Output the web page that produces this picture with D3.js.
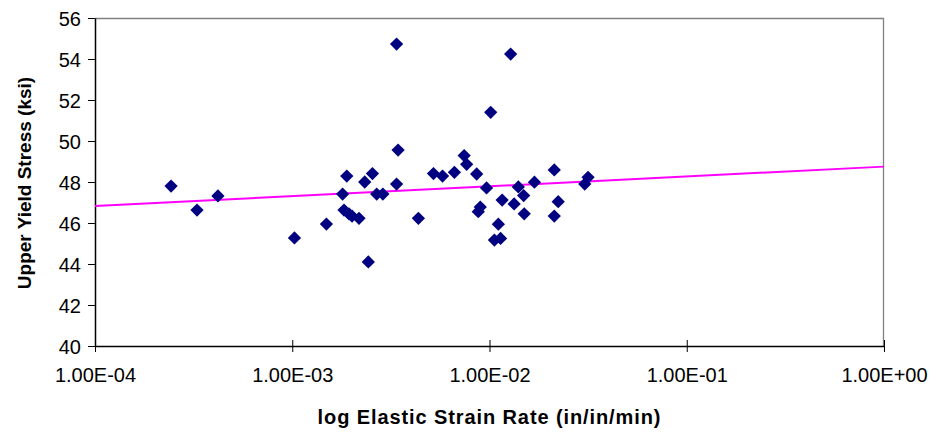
<!DOCTYPE html>
<html>
<head>
<meta charset="utf-8">
<script src="https://cdn.jsdelivr.net/npm/d3@7"></script>
<style>
  body { margin: 0; background: #fff; }
  svg { display: block; font-family: "Liberation Sans", Arial, sans-serif; }
</style>
</head>
<body>
<div id="vis"></div>
<script>
// Data
const STRAIN_RATE = [
  2.43e-4, 3.29e-4, 4.20e-4, 1.026e-3, 1.49e-3, 1.80e-3, 1.89e-3, 1.83e-3, 1.94e-3, 2.01e-3,
  2.18e-3, 2.33e-3, 2.55e-3, 2.43e-3, 2.68e-3, 2.88e-3, 3.38e-3, 3.44e-3, 3.38e-3, 4.36e-3,
  5.20e-3, 5.78e-3, 6.64e-3, 7.44e-3, 7.66e-3, 8.61e-3, 9.66e-3, 8.98e-3, 8.77e-3, 1.159e-2,
  1.109e-2, 1.059e-2, 1.138e-2, 1.014e-2, 1.28e-2, 1.333e-2, 1.40e-2, 1.49e-2, 1.50e-2, 1.69e-2,
  2.13e-2, 2.23e-2, 2.13e-2, 3.04e-2, 3.16e-2
];
const YIELD_STRESS = [
  47.80, 46.63, 47.32, 45.27, 45.95, 47.41, 48.29, 46.63, 46.44, 46.34,
  46.23, 48.00, 48.41, 44.10, 47.41, 47.41, 54.73, 49.56, 47.90, 46.23,
  48.41, 48.29, 48.47, 49.29, 48.86, 48.39, 47.71, 46.78, 46.55, 47.12,
  45.94, 45.17, 45.25, 51.40, 54.24, 46.93, 47.76, 47.34, 46.45, 47.99,
  48.59, 47.04, 46.34, 47.90, 48.23
];
// logarithmic trend line end points
const TREND_X = [1e-4, 1];
const TREND_Y = [46.83, 48.75];

const X_TICKS = [1e-4, 1e-3, 1e-2, 1e-1, 1];
const X_TICK_LABELS = ["1.00E-04", "1.00E-03", "1.00E-02", "1.00E-01", "1.00E+00"];
const Y_TICKS = [40, 42, 44, 46, 48, 50, 52, 54, 56];

const FRAME_WIDTH = 935;
const FRAME_HEIGHT = 437;
const MARGINS = {left: 95, right: 51, top: 18, bottom: 91};
const VIS_WIDTH = FRAME_WIDTH - MARGINS.left - MARGINS.right;
const VIS_HEIGHT = FRAME_HEIGHT - MARGINS.top - MARGINS.bottom;

const DATA = STRAIN_RATE.map((x, i) => ({x: x, y: YIELD_STRESS[i]}));

const FRAME = d3.select("#vis")
  .append("svg")
  .attr("width", FRAME_WIDTH)
  .attr("height", FRAME_HEIGHT);

const X_SCALE = d3.scaleLog().domain([1e-4, 1]).range([0, VIS_WIDTH]);
const Y_SCALE = d3.scaleLinear().domain([40, 56]).range([VIS_HEIGHT, 0]);

const G = FRAME.append("g")
  .attr("transform", "translate(" + MARGINS.left + "," + MARGINS.top + ")");

// plot area border (top and right in gray)
G.append("path")
  .attr("d", "M0,0.5H" + (VIS_WIDTH - 0.5) + "V" + VIS_HEIGHT)
  .attr("fill", "none")
  .attr("stroke", "#808080")
  .attr("stroke-width", 1.3);

// y axis
const yAxis = G.append("g")
  .call(d3.axisLeft(Y_SCALE).tickValues(Y_TICKS).tickSize(7).tickPadding(7).tickSizeOuter(0));
yAxis.selectAll("text").attr("font-size", "20px").attr("fill", "#000").attr("dy", "0.36em");
yAxis.select(".domain").attr("stroke", "#000").attr("stroke-width", 1.5);

// x axis with ticks crossing the line
const xAxis = G.append("g")
  .attr("transform", "translate(0," + VIS_HEIGHT + ")")
  .call(d3.axisBottom(X_SCALE).tickValues(X_TICKS)
    .tickFormat((d, i) => X_TICK_LABELS[i]).tickSize(6).tickPadding(16).tickSizeOuter(0));
xAxis.selectAll(".tick line").attr("y1", -6);
xAxis.selectAll("text").attr("font-size", "20px").attr("fill", "#000");
xAxis.select(".domain").attr("stroke", "#000").attr("stroke-width", 1.5);

// trend line
G.append("line")
  .attr("x1", X_SCALE(TREND_X[0]))
  .attr("y1", Y_SCALE(TREND_Y[0]))
  .attr("x2", X_SCALE(TREND_X[1]))
  .attr("y2", Y_SCALE(TREND_Y[1]))
  .attr("stroke", "#FF00FF")
  .attr("stroke-width", 2);

// diamond markers
const DIAMOND = d3.symbol().type(d3.symbolSquare).size(88);
G.selectAll(".point")
  .data(DATA)
  .enter()
  .append("path")
  .attr("class", "point")
  .attr("d", DIAMOND)
  .attr("transform", (d) => "translate(" + X_SCALE(d.x) + "," + Y_SCALE(d.y) + ") rotate(45)")
  .attr("fill", "#000080");

// axis titles
FRAME.append("text")
  .attr("x", MARGINS.left + X_SCALE(1e-2))
  .attr("y", 424)
  .attr("text-anchor", "middle")
  .attr("font-size", "20px")
  .attr("font-weight", "bold")
  .attr("letter-spacing", "0.9px")
  .text("log Elastic Strain Rate (in/in/min)");

FRAME.append("text")
  .attr("transform", "translate(31,183) rotate(-90)")
  .attr("text-anchor", "middle")
  .attr("font-size", "19px")
  .attr("font-weight", "bold")
  .text("Upper Yield Stress (ksi)");
</script>
</body>
</html>
